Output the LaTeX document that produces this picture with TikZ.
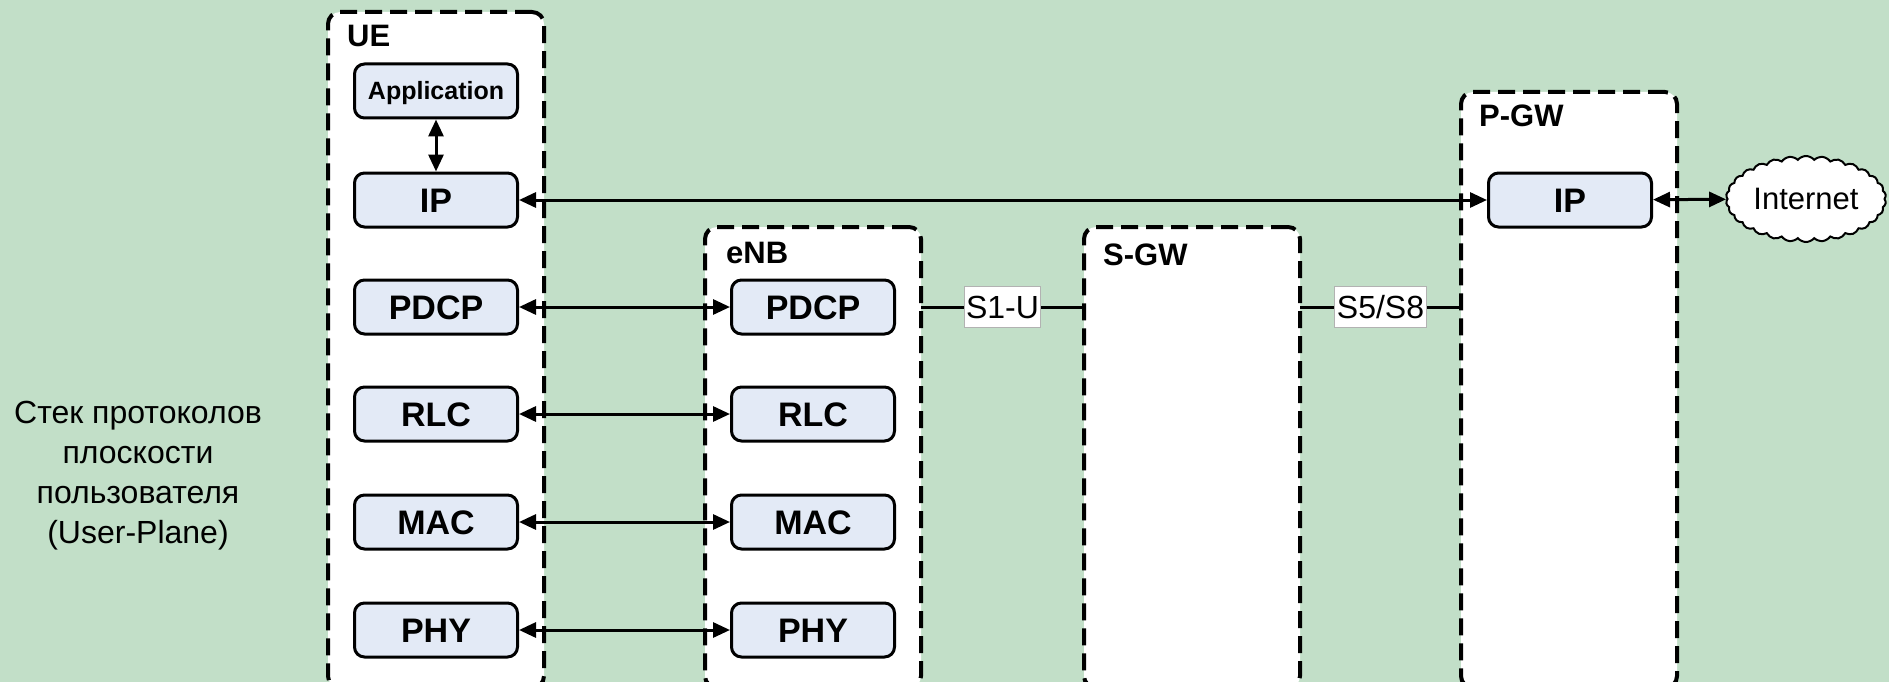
\documentclass[tikz,border=0pt]{standalone}
\usepackage{fontspec}
\setmainfont{Liberation Sans}
\usepackage{tikz}
\usetikzlibrary{arrows.meta,positioning,shapes.symbols}
\definecolor{lteback}{HTML}{C2DFC8}
\definecolor{ltelayer}{HTML}{E3EAF6}
\tikzset{
  entity/.style  = {draw, line width=4pt, dash pattern=on 17pt off 8pt,
                    fill=white, rounded corners=12pt, outer sep=0pt,
                    minimum width=216pt, anchor=north west},
  entname/.style = {font=\fontsize{31}{37}\selectfont\bfseries, inner sep=0pt,
                    anchor=west, text height=22pt, text depth=0pt},
  layer/.style   = {draw, line width=3pt, fill=ltelayer, rounded corners=10pt,
                    minimum width=163pt, minimum height=54pt, inner sep=0pt,
                    font=\fontsize{34}{40}\selectfont\bfseries,
                    text height=24pt, text depth=0pt},
  peer/.style    = {{Triangle[length=17pt,width=15pt]}-{Triangle[length=17pt,width=15pt]},
                    line width=3pt},
  iface/.style   = {fill=white, draw=gray!60, line width=1pt, inner xsep=2pt,
                    minimum height=41pt, font=\fontsize{32}{38}\selectfont},
}
\begin{document}
\begin{tikzpicture}[x=1pt, y=-1pt]
\useasboundingbox[fill=lteback] (0,0) rectangle (1889,682);
\clip (0,0) rectangle (1889,682);
% ---- network entities ----
\node[entity, minimum height=676pt] (ue)  at (328,12)  {};
\node[entity, minimum height=461pt] (enb) at (705,227) {};
\node[entity, minimum height=461pt] (sgw) at (1084,227) {};
\node[entity, minimum height=596pt] (pgw) at (1461,92) {};
\node[entname] (uename)  at (347,36)   {UE};
\node[entname] (enbname) at (726,252)  {eNB};
\node[entname] (sgwname) at (1103,254) {S-GW};
\node[entname] (pgwname) at (1479,116) {P-GW};
% ---- UE stack ----
\node[layer, font=\fontsize{25}{30}\selectfont\bfseries, text height=18pt]
      (ueapp) at (436,91) {Application};
\node[layer] (ueip)   at (436,200) {IP};
\node[layer] (uepdcp) at (436,307) {PDCP};
\node[layer] (uerlc)  at (436,414) {RLC};
\node[layer] (uemac)  at (436,522) {MAC};
\node[layer] (uephy)  at (436,630) {PHY};
% ---- eNB stack ----
\node[layer] (enbpdcp) at (813,307) {PDCP};
\node[layer] (enbrlc)  at (813,414) {RLC};
\node[layer] (enbmac)  at (813,522) {MAC};
\node[layer] (enbphy)  at (813,630) {PHY};
% ---- P-GW and the internet ----
\node[layer] (pgwip) at (1570,200) {IP};
\node[cloud, cloud puffs=30, cloud puff arc=100, aspect=1.9, draw, line width=2pt,
      fill=white, minimum width=160pt, minimum height=86pt, inner sep=0pt,
      font=\fontsize{31}{36}\selectfont] (inet) at (1806,199) {Internet};
% ---- peer links ----
\draw[peer] (ueapp) -- (ueip);
\draw[peer] (ueip) -- (pgwip);
\draw[peer] (pgwip) -- (inet);
\draw[peer] (uepdcp) -- (enbpdcp);
\draw[peer] (uerlc) -- (enbrlc);
\draw[peer] (uemac) -- (enbmac);
\draw[peer] (uephy) -- (enbphy);
% ---- interfaces ----
\draw[line width=3pt] (enb.east |- enbpdcp) -- node[iface] (s1u) {S1-U}
      (sgw.west |- enbpdcp);
\draw[line width=3pt] (sgw.east |- enbpdcp) -- node[iface] (s5s8) {S5/S8}
      (pgw.west |- enbpdcp);
% ---- caption ----
\node[align=center, font=\fontsize{32}{40}\selectfont] (caption) at (138,476)
      {Стек протоколов\\плоскости\\пользователя\\(User-Plane)};
\end{tikzpicture}
\end{document}
